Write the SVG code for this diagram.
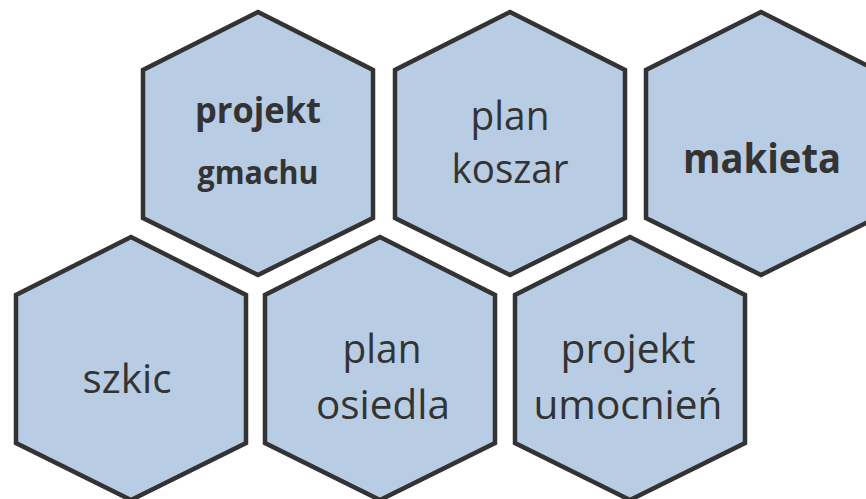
<svg xmlns="http://www.w3.org/2000/svg" width="866" height="499" viewBox="0 0 866 499">
  <defs>
    <style>
      .hex { fill: #b8cce4; stroke: #333333; stroke-width: 4.5; stroke-linejoin: miter; }
      .lbl { font-family: "Open Sans", "Noto Sans", "DejaVu Sans", sans-serif; fill: #333333; text-anchor: middle; }
      .reg { font-size: 41px; font-weight: 400; }
      .bold { font-weight: 700; }
    </style>
    <!-- pointy-top hexagon, 230 wide, 263 tall, anchored at its top vertex -->
    <polygon id="hexShape" points="0,0 115,58 115,206 0,263 -115,206 -115,58"/>
  </defs>

  <g id="node-projekt-gmachu">
    <use href="#hexShape" class="hex" x="258" y="12"/>
    <text class="lbl bold" x="258" y="123" font-size="36" textLength="126" lengthAdjust="spacingAndGlyphs">projekt</text>
    <text class="lbl bold" x="258" y="184" font-size="32" textLength="121" lengthAdjust="spacingAndGlyphs">gmachu</text>
  </g>

  <g id="node-plan-koszar">
    <use href="#hexShape" class="hex" x="510" y="12"/>
    <text class="lbl reg" x="510" y="130" textLength="79" lengthAdjust="spacingAndGlyphs">plan</text>
    <text class="lbl reg" x="510" y="183" textLength="117" lengthAdjust="spacingAndGlyphs">koszar</text>
  </g>

  <g id="node-makieta">
    <use href="#hexShape" class="hex" x="761" y="12"/>
    <text class="lbl bold" x="762" y="173" font-size="41" textLength="158" lengthAdjust="spacingAndGlyphs">makieta</text>
  </g>

  <g id="node-szkic">
    <use href="#hexShape" class="hex" x="131" y="237"/>
    <text class="lbl reg" x="127" y="393" textLength="89" lengthAdjust="spacingAndGlyphs">szkic</text>
  </g>

  <g id="node-plan-osiedla">
    <use href="#hexShape" class="hex" x="380" y="237"/>
    <text class="lbl reg" x="382" y="363" textLength="79" lengthAdjust="spacingAndGlyphs">plan</text>
    <text class="lbl reg" x="383" y="419" textLength="134" lengthAdjust="spacingAndGlyphs">osiedla</text>
  </g>

  <g id="node-projekt-umocnien">
    <use href="#hexShape" class="hex" x="630" y="237"/>
    <text class="lbl reg" x="628" y="363" textLength="135" lengthAdjust="spacingAndGlyphs">projekt</text>
    <text class="lbl reg" x="628" y="419" textLength="189" lengthAdjust="spacingAndGlyphs">umocnień</text>
  </g>

  <g id="connectors"/>
</svg>
